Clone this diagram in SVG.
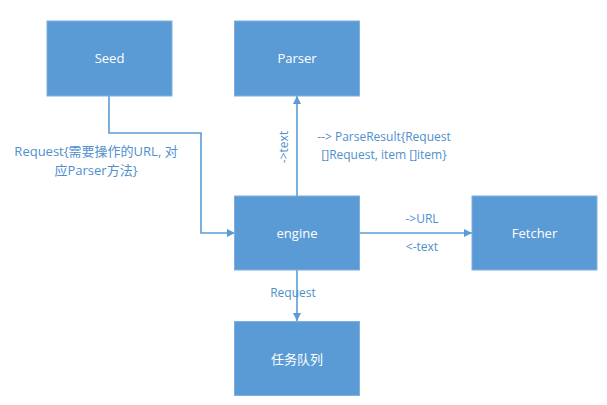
<svg xmlns="http://www.w3.org/2000/svg" width="607" height="405" viewBox="0 0 607 405">
<defs>
<marker id="ah" viewBox="0 0 10 10" refX="10" refY="5" markerWidth="8" markerHeight="8" markerUnits="userSpaceOnUse" orient="auto">
<path d="M0,0 L10,5 L0,10 z" fill="#5b9bd5"/>
</marker>
<style>
.box{fill:#5b9bd5;stroke:#7fb0de;stroke-width:1}
.bt{fill:#ffffff;font-family:"Open Sans","Liberation Sans","Noto Sans CJK SC",sans-serif;font-size:13px;text-anchor:middle;dominant-baseline:central}
.ln{fill:none;stroke:#5b9bd5;stroke-width:1.6;marker-end:url(#ah)}
.lt{fill:#4f8fcc;font-family:"Open Sans","Liberation Sans","Noto Sans CJK SC",sans-serif;font-size:12px;text-anchor:middle;dominant-baseline:central}
.lc{font-size:13px}
</style>
</defs>
<rect width="607" height="405" fill="#ffffff"/>
<g id="connectors">
<path class="ln" d="M109,96 V133 H201 V233 H235"/>
<path class="ln" d="M297,196 V96"/>
<path class="ln" d="M359,233 H472"/>
<path class="ln" d="M297,270 V321"/>
<text class="lt lc" x="96" y="151">Request{需要操作的URL, 对</text>
<text class="lt lc" x="96" y="170">应Parser方法}</text>
<text class="lt" transform="translate(283,147) rotate(-90)">-&gt;text</text>
<text class="lt" x="384" y="136">--&gt; ParseResult{Request</text>
<text class="lt" x="384" y="154">[]Request, item []item}</text>
<text class="lt" x="422" y="218">-&gt;URL</text>
<text class="lt" x="422" y="246">&lt;-text</text>
<text class="lt" x="293" y="292">Request</text>
</g>
<g id="seed"><rect class="box" x="47" y="21" width="125" height="75"/><text class="bt" x="109.5" y="58">Seed</text></g>
<g id="parser"><rect class="box" x="234.5" y="21" width="125" height="75"/><text class="bt" x="297" y="58">Parser</text></g>
<g id="engine"><rect class="box" x="234.5" y="196" width="125" height="74"/><text class="bt" x="297" y="233">engine</text></g>
<g id="fetcher"><rect class="box" x="472" y="196" width="125" height="74"/><text class="bt" x="534.5" y="233">Fetcher</text></g>
<g id="queue"><rect class="box" x="234.5" y="321.5" width="125" height="74"/><text class="bt" x="297" y="358.5">任务队列</text></g>
</svg>
